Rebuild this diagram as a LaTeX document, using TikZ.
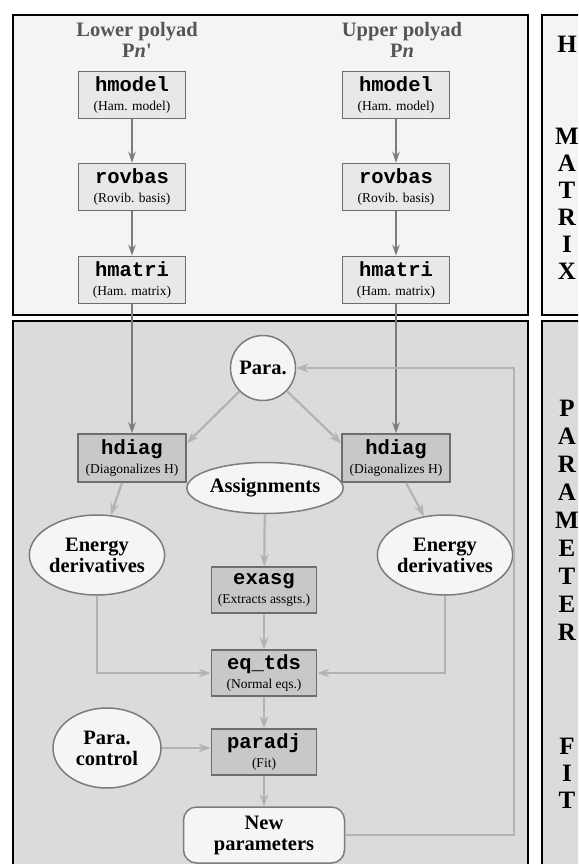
\documentclass[tikz,border=0pt]{standalone}
\usepackage{fontspec}
\setmainfont{Liberation Serif}
\setmonofont{Liberation Mono}
\usetikzlibrary{arrows.meta, positioning, shapes.geometric}
\definecolor{cpanel}{HTML}{F4F4F4}
\definecolor{cpaneld}{HTML}{DBDBDB}
\definecolor{cboxl}{HTML}{E8E8E8}
\definecolor{cboxd}{HTML}{C8C8C8}
\definecolor{cedge}{HTML}{6E6E6E}
\definecolor{cbubble}{HTML}{F5F5F5}
\definecolor{cdark}{HTML}{7C7C7C}
\definecolor{clight}{HTML}{B3B3B3}
\definecolor{ctitle}{HTML}{555555}
\newcommand{\prog}[2]{{\ttfamily\bfseries\fontsize{20.5}{20}\selectfont #1}\\(#2)}
\tikzset{
  every picture/.style={x=1pt, y=-1pt},
  panel/.style={draw=black, line width=2.2pt, fill=#1},
  prgtop/.style={draw=cedge, fill=cboxl, line width=1.6pt, minimum width=107pt, minimum height=47pt, inner sep=0pt, align=center, font=\fontsize{13.5}{19}\selectfont},
  prgbot/.style={prgtop, fill=cboxd},
  bubble/.style={ellipse, draw=cdark, fill=cbubble, line width=1.5pt, inner sep=0pt, align=center, font=\bfseries\fontsize{20.5}{21}\selectfont},
  heading/.style={align=center, text=ctitle, font=\bfseries\fontsize{20.5}{21}\selectfont},
  vlet/.style={font=\bfseries\fontsize{25}{28}\selectfont, inner sep=0pt},
  dkarrow/.style={-{Stealth[length=11pt, width=7.5pt]}, draw=cdark, line width=1.8pt},
  ltarrow/.style={-{Stealth[length=12pt, width=8.5pt]}, draw=clight, line width=2.2pt},
}
\begin{document}
\begin{tikzpicture}
  \useasboundingbox (0,0) rectangle (578,864);
  \clip (0,0) rectangle (578,864);
  % panels
  \draw[panel=cpanel] (13,15) rectangle (528,315);
  \draw[panel=cpaneld] (13,321) rectangle (528,880);
  \draw[panel=cpanel] (542,15) rectangle (600,315);
  \draw[panel=cpaneld] (542,321) rectangle (600,880);
  \foreach \ch/\yy [count=\k] in {H/44, M/136, A/163, T/190, R/217, I/244, X/271}
    \node[vlet] (mx\k) at (567,\yy) {\ch};
  \foreach \ch/\yy [count=\k] in {P/408, A/436, R/464, A/492, M/520, E/548, T/576, E/604, R/632, F/746, I/773, T/800}
    \node[vlet] (pf\k) at (567,\yy) {\ch};
  % matrix part
  \node[heading] (lowt) at (137,40) {Lower polyad\\P\textit{n}\textquotesingle};
  \node[heading] (uppt) at (402,40) {Upper polyad\\P\textit{n}};
  \node[prgtop] (hmoL) at (132,95) {\prog{hmodel}{Ham. model}};
  \node[prgtop] (rovL) at (132,187) {\prog{rovbas}{Rovib. basis}};
  \node[prgtop] (hmaL) at (132,280) {\prog{hmatri}{Ham. matrix}};
  \node[prgtop] (hmoR) at (396,95) {\prog{hmodel}{Ham. model}};
  \node[prgtop] (rovR) at (396,187) {\prog{rovbas}{Rovib. basis}};
  \node[prgtop] (hmaR) at (396,280) {\prog{hmatri}{Ham. matrix}};
  % fit part
  \node[prgbot, minimum width=108pt, minimum height=48pt] (hdL) at (132,458) {\prog{hdiag}{Diagonalizes H}};
  \node[prgbot, minimum width=108pt, minimum height=48pt] (hdR) at (396,458) {\prog{hdiag}{Diagonalizes H}};
  \node[bubble, circle, minimum size=65pt] (para) at (263,368) {Para.};
  \node[bubble, minimum width=133pt, minimum height=51pt] (asg) at (265,488) {Assignments};
  \node[bubble, minimum width=107pt, minimum height=80pt] (enL) at (97,555) {Energy\\derivatives};
  \node[bubble, minimum width=107pt, minimum height=80pt] (enR) at (445,555) {Energy\\derivatives};
  \node[prgbot, minimum width=105pt, minimum height=46pt] (exa) at (264,590) {\prog{exasg}{Extracts assgts.}};
  \node[prgbot, minimum width=105pt, minimum height=46pt] (eqt) at (264,673) {\prog{eq\_tds}{Normal eqs.}};
  \node[prgbot, minimum width=105pt, minimum height=46pt] (pdj) at (264,752) {\prog{paradj}{Fit}};
  \node[bubble, minimum width=108pt, minimum height=80pt] (pctl) at (107,748) {Para.\\control};
  \node[bubble, rectangle, rounded corners=13pt, minimum width=161pt, minimum height=56pt] (newp) at (264,835) {New\\parameters};
  \coordinate (loopc) at (514,368);
  % connectors
  \draw[dkarrow] (hmoL) -- (rovL);
  \draw[dkarrow] (rovL) -- (hmaL);
  \draw[dkarrow] (hmoR) -- (rovR);
  \draw[dkarrow] (rovR) -- (hmaR);
  \draw[dkarrow] (hmaL) -- (hdL);
  \draw[dkarrow] (hmaR) -- (hdR);
  \draw[ltarrow] (para) -- (hdL.15);
  \draw[ltarrow] (para) -- (hdR.165);
  \draw[ltarrow] ([xshift=-10pt]hdL.south) -- (enL);
  \draw[ltarrow] ([xshift=10pt]hdR.south) -- (enR);
  \draw[ltarrow] (asg) -- (exa);
  \draw[ltarrow] (exa) -- (eqt);
  \draw[ltarrow] (eqt) -- (pdj);
  \draw[ltarrow] (pdj) -- (newp);
  \draw[ltarrow] (enL) |- (eqt);
  \draw[ltarrow] (enR) |- (eqt);
  \draw[ltarrow] (pctl) -- (pctl -| pdj.west);
  \draw[ltarrow] (newp.east) -| (loopc) -- (para);
\end{tikzpicture}
\end{document}
